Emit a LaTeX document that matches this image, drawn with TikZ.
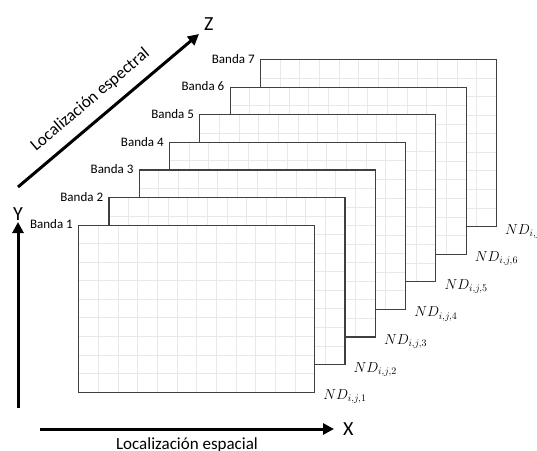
\documentclass[tikz,border=0pt]{standalone}
\usepackage{fontspec}
\setmainfont{Carlito}
\usetikzlibrary{positioning,calc,arrows.meta}

\tikzset{
  rejilla/.style={draw=black!9, line width=0.8pt},
  banda/.style={rectangle, draw=black!75, line width=1.2pt, fill=white,
    anchor=north west, inner sep=0pt, minimum width=236pt, minimum height=167pt,
    path picture={
      \foreach \i in {1,...,11}
        \draw[rejilla] ($(path picture bounding box.north west)!\i/12!(path picture bounding box.north east)$)
          -- ($(path picture bounding box.south west)!\i/12!(path picture bounding box.south east)$);
      \foreach \j in {1,...,8}
        \draw[rejilla] ($(path picture bounding box.north west)!\j/9!(path picture bounding box.south west)$)
          -- ($(path picture bounding box.north east)!\j/9!(path picture bounding box.south east)$);
    }},
  etiq/.style={inner sep=1pt, font=\fontsize{13}{15}\selectfont},
  nd/.style={inner sep=0pt, font=\fontsize{14}{16}\selectfont},
  eje/.style={line width=3pt, -{Triangle[length=11pt,width=11pt]}},
  ejelab/.style={inner sep=1pt, font=\fontsize{17}{19}\selectfont},
  ejeletra/.style={inner sep=1pt, font=\fontsize{20}{22}\selectfont}
}

\begin{document}
\begin{tikzpicture}[x=1pt,y=-1pt]
  \useasboundingbox (0,0) rectangle (537,450);

  % bandas, de la de atras a la de delante
  \foreach \k in {7,6,...,1} {
    \node[banda] (b\k) at ({78+30.3*(\k-1)},{224.5-27.6*(\k-1)}) {};
    \node[etiq, left=4pt of b\k.north west] (lb\k) {Banda \k};
    \node[nd, below right=-3pt and 8pt of b\k.south east] (nd\k) {$ND_{i,j,\k}$};
  }

  % ejes
  \coordinate (y0) at (18,408);
  \coordinate (y1) at (18,222);
  \coordinate (x0) at (40,429);
  \coordinate (x1) at (334,429);
  \coordinate (z0) at (18,187);
  \coordinate (z1) at (199,34);

  \draw[eje] (y0) -- (y1);
  \node[ejeletra, above=0pt of y1] (ly) {Y};

  \draw[eje] (x0) -- node[ejelab, below=6pt, pos=0.5] (lesp) {Localización espacial} (x1);
  \node[ejeletra, right=8pt of x1] (lx) {X};

  \draw[eje] (z0) -- node[ejelab, sloped, above=10pt, pos=0.47] (lspec) {Localización espectral} (z1);
  \node[ejeletra, above right=2pt and 4pt of z1] (lz) {Z};
\end{tikzpicture}
\end{document}
